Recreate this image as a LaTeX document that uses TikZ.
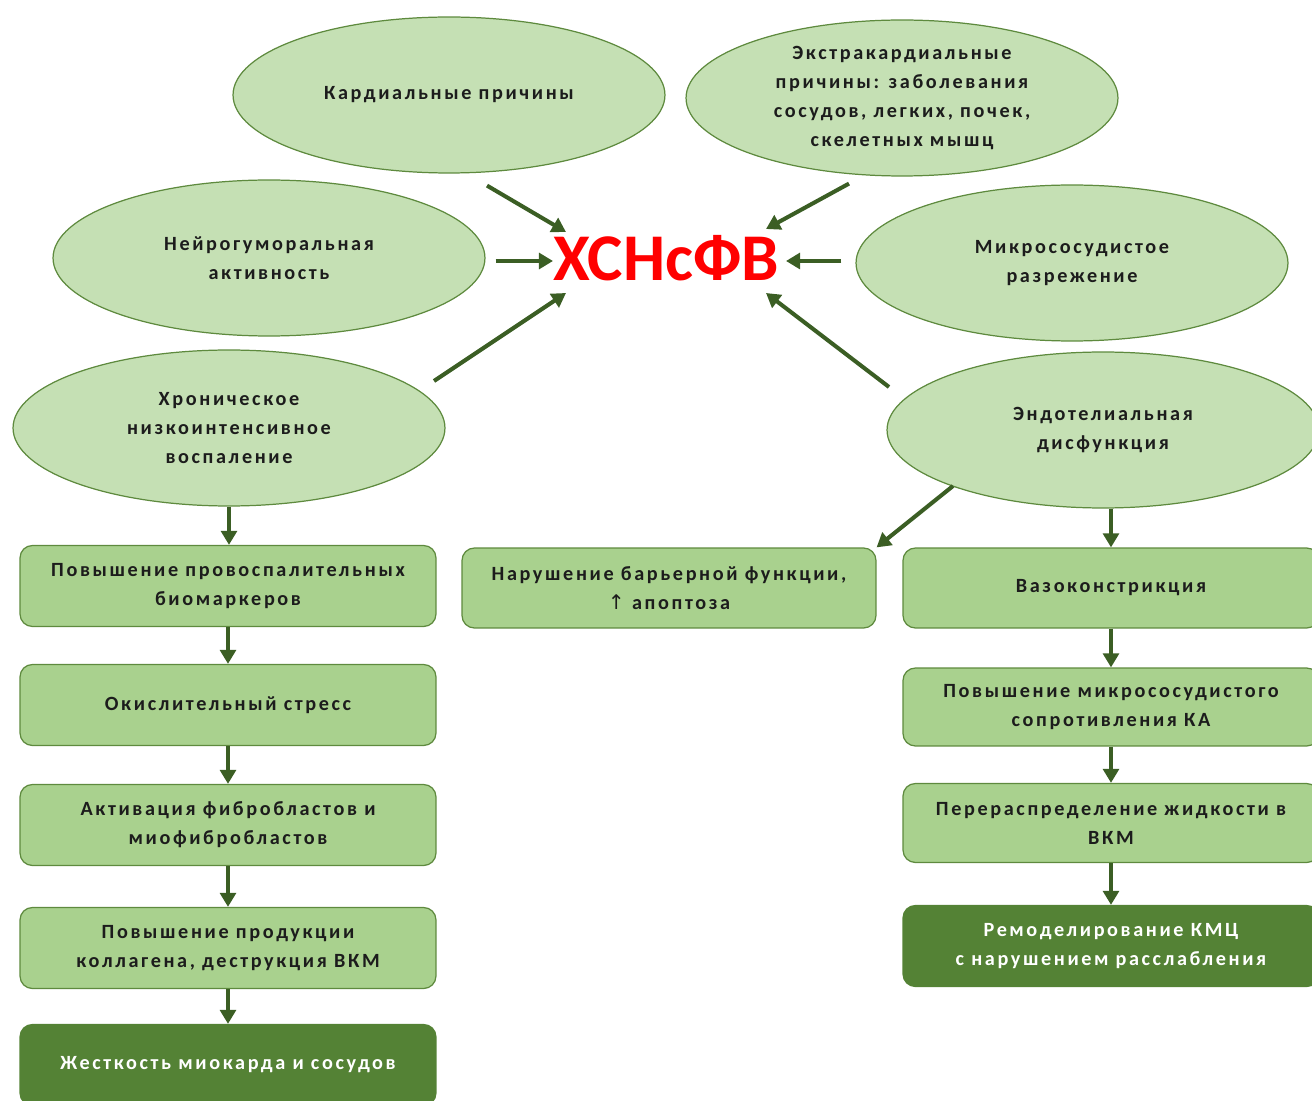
\documentclass[tikz,border=0pt]{standalone}
\usepackage{fontspec}
\setmainfont{Carlito}[LetterSpace=13]
\newfontfamily\titlefont{Carlito}
\newfontfamily\symfont{DejaVu Sans}
\usetikzlibrary{shapes.geometric,arrows.meta,calc}

\definecolor{ellfill}{HTML}{C5E0B4}
\definecolor{ellline}{HTML}{5E8A3E}
\definecolor{boxfill}{HTML}{A9D18E}
\definecolor{boxline}{HTML}{5E8A3E}
\definecolor{darkfill}{HTML}{548235}
\definecolor{arrowgreen}{HTML}{3B5E24}
\definecolor{txt}{HTML}{1C1C1C}

\tikzset{
  cause/.style={ellipse, draw=ellline, fill=ellfill, line width=0.7pt,
    minimum width=8.64cm, minimum height=3.12cm, inner sep=0pt,
    align=center, text=txt, font=\bfseries\fontsize{11.5}{16.5}\selectfont},
  stage/.style={rectangle, rounded corners=7pt, draw=boxline, fill=boxfill,
    line width=0.7pt, minimum width=8.32cm, minimum height=1.62cm,
    inner sep=0pt, align=center, text=txt,
    font=\bfseries\fontsize{11.5}{16.5}\selectfont},
  outcome/.style={stage, fill=darkfill, draw=darkfill, text=white},
  flow/.style={-{Triangle[length=8pt,width=9pt]}, line width=2.3pt, draw=arrowgreen}
}

\begin{document}
\begin{tikzpicture}[x=0.02cm,y=-0.02cm]

\useasboundingbox (0,0) rectangle (1312,1101);

% causes
\node[cause] (cardiac) at (449,95) {Кардиальные причины};
\node[cause] (extra) at (902,98) {Экстракардиальные\\причины: заболевания\\сосудов, легких, почек,\\скелетных мышц};
\node[cause] (neuro) at (269,258) {Нейрогуморальная\\активность};
\node[cause] (micro) at (1072,263) {Микрососудистое\\разрежение};
\node[cause] (inflam) at (229,428) {Хроническое\\низкоинтенсивное\\воспаление};
\node[cause] (endo) at (1103,430) {Эндотелиальная\\дисфункция};

\node[inner sep=0pt, text=red, font=\titlefont\bfseries\fontsize{38}{38}\selectfont] (title) at (666,258) {ХСНсФВ};

\draw[flow] ($(cardiac.south)+(38,12)$) -- ($(title)+(-100,-26)$);
\draw[flow] ($(extra.south)+(-53,7)$) -- ($(title)+(100,-29)$);
\draw[flow] ($(neuro.east)+(10,3)$) -- ($(title)+(-113,3)$);
\draw[flow] ($(micro.west)+(-14,-2)$) -- ($(title)+(120,3)$);
\draw[flow] ($(inflam)+(205,-47)$) -- ($(title)+(-100,35)$);
\draw[flow] ($(endo)+(-214,-43)$) -- ($(title)+(100,35)$);

% left column
\node[stage] (markers) at (228,586) {Повышение провоспалительных\\биомаркеров};
\node[stage] (oxid) at (228,705) {Окислительный стресс};
\node[stage] (fibro) at (228,825) {Активация фибробластов и\\миофибробластов};
\node[stage] (collagen) at (228,948) {Повышение продукции\\коллагена, деструкция ВКМ};
\node[outcome] (stiff) at (228,1065) {Жесткость миокарда и сосудов};

\draw[flow] (inflam.south) -- (inflam.south |- markers.north);
\draw[flow] (markers) -- (oxid);
\draw[flow] (oxid) -- (fibro);
\draw[flow] (fibro) -- (collagen);
\draw[flow] (collagen) -- (stiff);

% middle
\node[stage, minimum width=8.28cm, minimum height=1.6cm] (barrier) at (669,588) {Нарушение барьерной функции,\\{\symfont\mdseries ↑} апоптоза};
\draw[flow] ($(endo)+(-150,56)$) -- (barrier.north east);

% right column
\node[stage, minimum height=1.6cm] (vaso) at (1111,588) {Вазоконстрикция};
\node[stage, minimum height=1.56cm] (resist) at (1111,707) {Повышение микрососудистого\\сопротивления КА};
\node[stage, minimum height=1.58cm] (fluid) at (1111,823) {Перераспределение жидкости в\\ВКМ};
\node[outcome] (remodel) at (1111,946) {Ремоделирование КМЦ\\с нарушением расслабления};

\draw[flow] (vaso.north |- endo.south) -- (vaso.north);
\draw[flow] (vaso) -- (resist);
\draw[flow] (resist) -- (fluid);
\draw[flow] (fluid) -- (remodel);

\end{tikzpicture}
\end{document}
